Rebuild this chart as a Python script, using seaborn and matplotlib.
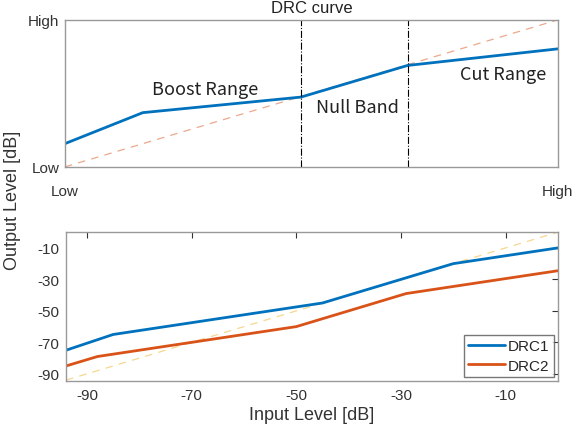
import numpy as np
import pandas as pd
import seaborn as sns
import matplotlib.pyplot as plt

# concept curve (normalised 0..1)
concept_in = [0.0, 0.158, 0.479, 0.695, 1.0]
concept_out = [0.158, 0.369, 0.475, 0.69, 0.803]
knee_x = [0.479, 0.695]
region_labels = ["Boost Range", "Null Band", "Cut Range"]
region_pos = [(0.285, 0.53), (0.594, 0.41), (0.888, 0.63)]

# measured curves [dB]
drc1_in = [-94, -85, -45, -20, 0]
drc1_out = [-75, -65, -45, -20, -10]
drc2_in = [-94, -88, -50, -29, 0]
drc2_out = [-85, -79, -60, -39, -24.5]
db_ticks = [-90, -70, -50, -30, -10]

blue = "#0072BD"
orange = "#D95319"
yellow = "#EDB120"
txt = "#333333"

sns.set_style("white")
plt.rcParams['font.family'] = ['Liberation Sans', 'DejaVu Sans']
plt.rcParams['axes.unicode_minus'] = False

fig = plt.figure(figsize=(5.74, 4.35), dpi=100)
ax1 = fig.add_axes([0.113, 0.614, 0.859, 0.338])
ax2 = fig.add_axes([0.115, 0.122, 0.857, 0.342])

# ---- top: DRC concept
sns.lineplot(x=[0, 1], y=[0, 1], ax=ax1, color=orange, alpha=0.5,
             linestyle=(0, (6, 5)), linewidth=0.9)
sns.lineplot(x=concept_in, y=concept_out, ax=ax1, color=blue, linewidth=2)
for k in knee_x:
    ax1.axvline(k, color="black", linestyle="-.", linewidth=0.8)
for lab, (px, py) in zip(region_labels, region_pos):
    ax1.text(px, py, lab, ha="center", va="center", fontsize=13,
             color="#222222", family=['Noto Sans CJK KR', 'DejaVu Sans'])
ax1.set_xlim(0, 1)
ax1.set_ylim(0, 1)
ax1.set_xticks([0, 1])
ax1.set_xticklabels(["Low", "High"])
ax1.set_yticks([0, 1])
ax1.set_yticklabels(["Low", "High"])
ax1.tick_params(axis="x", pad=12, length=0, labelsize=11, colors=txt)
ax1.tick_params(axis="y", length=0, labelsize=11, colors=txt, pad=4)
fig.text(0.543, 0.997, "DRC curve", ha="center", va="top",
         fontsize=12, color="#222222")

# ---- bottom: measured curves
sns.lineplot(x=[-94, 0], y=[-94, 0], ax=ax2, color=yellow, alpha=0.5,
             linestyle=(0, (6, 5)), linewidth=0.9)
sns.lineplot(x=drc1_in, y=drc1_out, ax=ax2, color=blue, linewidth=2, label="DRC1")
sns.lineplot(x=drc2_in, y=drc2_out, ax=ax2, color=orange, linewidth=2, label="DRC2")
ax2.set_xlim(-94, 0)
ax2.set_ylim(-94.5, 0)
ax2.set_xticks(db_ticks)
ax2.set_yticks(db_ticks)
ax2.tick_params(direction="in", top=True, right=True, length=4,
                labelsize=11, colors=txt, pad=5)
ax2.set_xlabel("Input Level [dB]", fontsize=13, color=txt, labelpad=3)
ax2.set_ylabel("")
leg = ax2.legend(loc="lower right", fontsize=11, frameon=True, fancybox=False,
                 handlelength=2.4, handletextpad=0.2, borderpad=0.3,
                 labelspacing=0.35, borderaxespad=0.25)
leg.get_frame().set_edgecolor("#555555")

for ax in (ax1, ax2):
    for s in ax.spines.values():
        s.set_color("#999999")
        s.set_linewidth(1)

fig.text(0.022, 0.54, "Output Level [dB]", rotation=90, ha="center", va="center",
         fontsize=13, color=txt)

fig.savefig("out.png", dpi=100)
